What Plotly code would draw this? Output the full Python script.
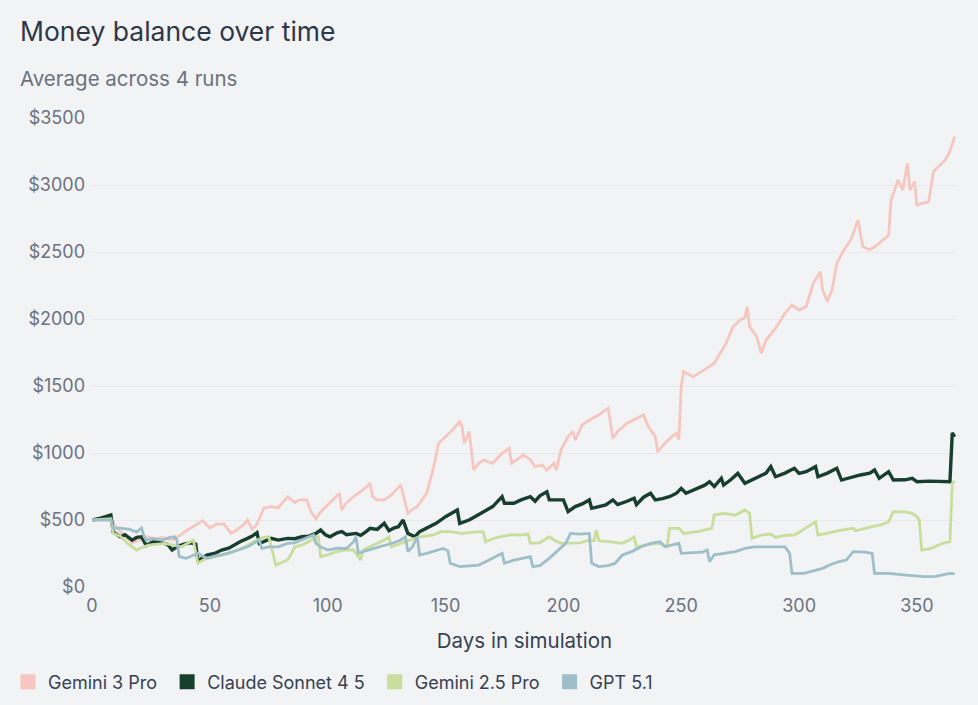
"""Money balance over time: average across 4 runs per model."""

import plotly.graph_objects as go

# Values (day, average balance in $)
gemini3_days = [0, 8, 10, 14, 17, 20, 23, 27, 30, 34, 37, 40, 43, 47, 50, 53, 56, 59, 61, 64,
                66, 68, 70, 73, 76, 79, 83, 86, 88, 91, 93, 95, 97, 100, 102, 105, 106, 108, 111, 115,
                118, 119, 121, 124, 127, 131, 134, 136, 138, 142, 145, 147, 150, 153, 156, 157, 158, 160, 162, 164,
                166, 170, 174, 177, 178, 181, 183, 186, 188, 191, 193, 196, 197, 199, 202, 204, 205, 208, 211, 215,
                219, 221, 223, 227, 230, 234, 236, 239, 240, 243, 246, 248, 249, 250, 251, 255, 258, 261, 264, 269,
                272, 275, 277, 278, 279, 282, 284, 286, 290, 294, 297, 300, 303, 306, 309, 310, 312, 314, 316, 319,
                322, 325, 327, 330, 334, 338, 339, 342, 344, 346, 347, 349, 350, 355, 357, 362, 364, 366]
gemini3_vals = [500, 510, 450, 380, 330, 350, 375, 360, 370, 350, 380, 420, 450, 495, 440, 470, 470, 400, 420, 460,
                500, 430, 470, 590, 600, 590, 674, 630, 650, 650, 560, 510, 560, 610, 650, 700, 575, 630, 675, 724,
                774, 675, 650, 650, 687, 761, 550, 580, 600, 700, 898, 1072, 1122, 1172, 1234, 1197, 1072, 1160, 873, 920,
                948, 923, 998, 1035, 923, 960, 985, 950, 898, 910, 873, 923, 873, 1022, 1122, 1160, 1097, 1209, 1246, 1284,
                1334, 1109, 1160, 1222, 1246, 1284, 1197, 1122, 1010, 1072, 1122, 1147, 1100, 1495, 1607, 1570, 1600, 1632, 1670, 1818,
                1943, 1993, 2010, 2092, 1943, 1868, 1744, 1843, 1930, 2043, 2104, 2067, 2092, 2266, 2353, 2216, 2129, 2216, 2415, 2515,
                2590, 2739, 2540, 2515, 2565, 2627, 2888, 3037, 2963, 3162, 2963, 3025, 2851, 2876, 3100, 3187, 3250, 3360]

claude_days = [0, 4, 8, 9, 12, 14, 17, 19, 21, 23, 26, 30, 32, 34, 36, 39, 42, 44, 45, 47,
               49, 52, 55, 58, 60, 63, 66, 68, 70, 71, 73, 76, 79, 83, 86, 89, 92, 95, 97, 99,
               101, 104, 106, 108, 112, 114, 116, 118, 121, 124, 126, 128, 130, 132, 134, 137, 139, 142, 146, 150,
               155, 156, 158, 160, 163, 166, 170, 174, 175, 179, 182, 186, 188, 190, 193, 194, 197, 200, 202, 205,
               208, 211, 212, 215, 218, 221, 223, 227, 230, 231, 234, 237, 239, 242, 245, 248, 250, 252, 255, 257,
               260, 262, 264, 267, 268, 271, 274, 277, 280, 283, 286, 288, 290, 294, 298, 300, 303, 307, 308, 312,
               316, 318, 322, 326, 330, 332, 334, 338, 340, 345, 348, 350, 355, 360, 364, 365, 366]
claude_vals = [500, 515, 537, 410, 375, 390, 350, 370, 375, 310, 340, 330, 320, 276, 300, 320, 330, 320, 189, 220,
               239, 250, 276, 290, 313, 340, 363, 380, 405, 325, 340, 363, 350, 363, 360, 375, 380, 400, 425, 390,
               375, 405, 413, 390, 400, 385, 410, 438, 430, 475, 420, 440, 450, 500, 400, 375, 413, 438, 475, 525,
               575, 475, 490, 500, 530, 562, 600, 674, 625, 625, 650, 674, 640, 680, 711, 650, 650, 650, 562, 600,
               620, 650, 587, 600, 612, 650, 615, 640, 662, 615, 670, 699, 650, 660, 674, 700, 736, 700, 720, 736,
               760, 786, 750, 811, 761, 800, 848, 774, 800, 823, 850, 898, 823, 850, 886, 848, 860, 898, 823, 850,
               886, 798, 820, 836, 850, 873, 811, 861, 798, 800, 811, 786, 790, 786, 786, 1150, 1120]

gemini25_days = [0, 8, 9, 12, 15, 19, 22, 24, 28, 31, 35, 38, 41, 43, 45, 47, 49, 53, 58, 61,
                 65, 68, 70, 73, 75, 78, 80, 83, 85, 86, 89, 92, 96, 97, 100, 103, 107, 111, 114, 115,
                 118, 121, 124, 126, 127, 131, 135, 139, 145, 148, 152, 157, 162, 166, 167, 170, 173, 178, 182, 185,
                 186, 190, 194, 197, 199, 202, 207, 211, 213, 214, 215, 219, 225, 228, 230, 231, 235, 240, 242, 244,
                 245, 249, 251, 255, 257, 263, 264, 268, 271, 273, 277, 279, 280, 284, 288, 290, 294, 298, 302, 307,
                 308, 314, 318, 323, 324, 331, 335, 338, 340, 345, 348, 350, 351, 352, 356, 361, 364, 365, 366]
gemini25_vals = [500, 510, 400, 380, 326, 276, 300, 313, 320, 326, 310, 300, 330, 350, 177, 200, 214, 230, 251, 270,
                 300, 330, 350, 370, 375, 164, 180, 202, 260, 300, 313, 340, 375, 226, 239, 260, 276, 276, 201, 276,
                 300, 326, 350, 375, 300, 326, 350, 375, 388, 413, 413, 400, 410, 413, 338, 360, 375, 390, 388, 395,
                 326, 330, 375, 340, 326, 326, 330, 350, 345, 425, 345, 338, 326, 350, 375, 300, 315, 326, 320, 300,
                 438, 438, 400, 410, 413, 438, 537, 550, 540, 537, 575, 550, 363, 388, 395, 370, 385, 388, 430, 487,
                 388, 413, 425, 438, 420, 450, 465, 487, 562, 560, 550, 525, 500, 276, 288, 326, 338, 774, 790]

gpt51_days = [0, 8, 9, 12, 16, 19, 21, 22, 23, 26, 30, 33, 35, 36, 37, 40, 42, 45, 47, 49,
              52, 55, 60, 63, 66, 69, 71, 72, 75, 79, 83, 86, 89, 92, 94, 95, 97, 100, 104, 108,
              111, 112, 113, 116, 120, 125, 128, 131, 133, 134, 136, 138, 139, 142, 146, 149, 151, 152, 156, 160,
              164, 167, 170, 174, 175, 179, 183, 186, 187, 190, 194, 197, 199, 201, 203, 207, 211, 212, 215, 219,
              222, 225, 229, 233, 237, 241, 243, 246, 249, 250, 255, 259, 261, 262, 264, 268, 273, 277, 281, 286,
              290, 294, 296, 297, 302, 306, 310, 313, 317, 320, 323, 328, 331, 332, 338, 342, 346, 349, 353, 358,
              362, 364, 366]
gpt51_vals = [500, 500, 440, 440, 430, 410, 440, 380, 350, 360, 350, 370, 375, 350, 226, 214, 230, 251, 230, 214,
              230, 239, 264, 280, 300, 330, 350, 288, 300, 300, 326, 330, 350, 370, 388, 326, 300, 276, 290, 288,
              338, 375, 251, 270, 290, 313, 330, 350, 375, 264, 300, 375, 239, 251, 270, 288, 270, 177, 152, 160,
              164, 189, 214, 251, 177, 201, 215, 226, 152, 160, 214, 260, 288, 326, 400, 395, 400, 177, 152, 160,
              177, 239, 264, 300, 326, 338, 300, 315, 326, 251, 255, 260, 276, 189, 240, 251, 264, 288, 300, 300,
              300, 300, 251, 102, 102, 120, 139, 164, 190, 201, 264, 260, 251, 102, 102, 95, 90, 85, 77, 80,
              95, 102, 98]

series = [
    ("Gemini 3 Pro", gemini3_days, gemini3_vals, "#f5c7c0", 2.8),
    ("Claude Sonnet 4 5", claude_days, claude_vals, "#183f2e", 3.4),
    ("Gemini 2.5 Pro", gemini25_days, gemini25_vals, "#c9de9c", 2.8),
    ("GPT 5.1", gpt51_days, gpt51_vals, "#9fbfc8", 2.8),
]

x_ticks = [0, 50, 100, 150, 200, 250, 300, 350]
y_ticks = [0, 500, 1000, 1500, 2000, 2500, 3000, 3500]

BG = "#f2f3f5"
FONT = "Inter, Roboto, sans-serif"

fig = go.Figure()
for name, days, vals, color, width in series:
    fig.add_trace(
        go.Scatter(
            x=days,
            y=vals,
            mode="lines",
            line={"color": color, "width": width},
            name=name,
            showlegend=False,
        )
    )

# square legend swatches
for name, _, _, color, _ in series:
    fig.add_trace(
        go.Scatter(
            x=[None],
            y=[None],
            mode="markers",
            marker={"symbol": "square", "size": 15, "color": color},
            name=name + " ",
            showlegend=True,
        )
    )

fig.update_layout(
    width=978,
    height=705,
    paper_bgcolor=BG,
    plot_bgcolor=BG,
    font={"family": FONT, "color": "#6b7280", "size": 18},
    margin={"l": 92, "r": 21, "t": 118, "b": 118},
    title={
        "text": "Money balance over time",
        "font": {"size": 26.5, "color": "#2d3748", "family": FONT},
        "xref": "container",
        "yref": "container",
        "x": 20 / 978,
        "xanchor": "left",
        "y": 1 - 32 / 705,
        "yanchor": "middle",
    },
    annotations=[
        {
            "text": "Average across 4 runs",
            "xref": "paper",
            "yref": "paper",
            "x": -74 / 865,
            "xanchor": "left",
            "y": 1 + (118 - 78) / 469,
            "yanchor": "middle",
            "showarrow": False,
            "font": {"size": 20.5, "color": "#6b7280", "family": FONT},
        }
    ],
    legend={
        "orientation": "h",
        "xref": "container",
        "yref": "container",
        "x": 8 / 978,
        "xanchor": "left",
        "y": (705 - 682) / 705,
        "yanchor": "middle",
        "font": {"size": 18, "color": "#374151"},
        "itemwidth": 30,
        "bgcolor": "rgba(0,0,0,0)",
    },
    xaxis={
        "range": [0, 367],
        "tickvals": x_ticks,
        "showgrid": False,
        "zeroline": False,
        "showline": False,
        "ticks": "",
        "ticklabelstandoff": 6,
        "title": {"text": "Days in simulation", "font": {"size": 20.5, "color": "#374151"}, "standoff": 18},
    },
    yaxis={
        "range": [0, 3500],
        "tickvals": y_ticks,
        "ticktext": ["$" + str(v) for v in y_ticks],
        "showgrid": True,
        "gridcolor": "#e7e9ec",
        "gridwidth": 1,
        "zeroline": False,
        "showline": False,
        "ticks": "",
        "ticklabelstandoff": 6,
    },
)

page_fix = "document.body.style.margin='0';document.body.style.background='" + BG + "';"
fig.write_html("out.html", post_script=page_fix, config={"displayModeBar": False})
